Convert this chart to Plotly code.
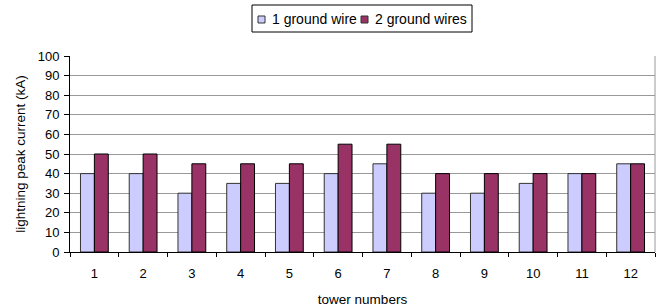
import plotly.graph_objects as go

towers = [str(i) for i in range(1, 13)]
one_wire = [40, 40, 30, 35, 35, 40, 45, 30, 30, 35, 40, 45]
two_wires = [50, 50, 45, 45, 45, 55, 55, 40, 40, 40, 40, 45]
series_names = ["1 ground wire", "2 ground wires"]
series_colors = ["#CCCCFF", "#993366"]

W, H = 659, 307
ML, MR, MT, MB = 70, 4, 56, 55
PW, PH = W - ML - MR, H - MT - MB


def px(x):
    return (x - ML) / PW


def py(y):
    return (H - MB - y) / PH


fig = go.Figure()
fig.add_trace(go.Bar(x=towers, y=one_wire, name=series_names[0], showlegend=False,
                     marker=dict(color=series_colors[0], line=dict(color="#333333", width=1))))
fig.add_trace(go.Bar(x=towers, y=two_wires, name=series_names[1], showlegend=False,
                     marker=dict(color=series_colors[1], line=dict(color="#000000", width=1))))

fig.update_layout(
    width=W, height=H,
    margin=dict(l=ML, r=MR, t=MT, b=MB),
    paper_bgcolor="white", plot_bgcolor="white",
    font=dict(family="Liberation Sans, Arial", size=13, color="black"),
    barmode="group", bargap=0.43, bargroupgap=0,
    showlegend=False,
    xaxis=dict(type="category", tickson="boundaries", ticks="outside", ticklen=4,
               tickcolor="black", showline=True, linecolor="black", linewidth=1,
               showgrid=False, ticklabelstandoff=9, tickfont=dict(size=13),
               title=dict(text="tower numbers", font=dict(size=13.5), standoff=14)),
    yaxis=dict(range=[0, 100], dtick=10, ticks="outside", ticklen=5, tickcolor="black",
               showline=True, linecolor="black", linewidth=1, tickfont=dict(size=13),
               showgrid=True, gridcolor="#999999", gridwidth=1, ticklabelstandoff=2,
               title=dict(text="lightning peak current (kA)", font=dict(size=13.5), standoff=8)),
)
# right border of plot area
fig.add_shape(type="line", xref="paper", yref="paper", x0=1, x1=1, y0=0, y1=1,
              line=dict(color="#999999", width=1))

# legend box drawn manually (compact, like the original)
fig.add_shape(type="rect", xref="paper", yref="paper",
              x0=px(252), x1=px(472), y0=py(32), y1=py(5),
              line=dict(color="black", width=1), fillcolor="white")
sq_x = [258, 361]
tx_x = [270, 373]
for i in range(2):
    fig.add_shape(type="rect", xref="paper", yref="paper",
                  x0=px(sq_x[i]), x1=px(sq_x[i] + 7), y0=py(23), y1=py(16),
                  line=dict(color="#333333", width=1), fillcolor=series_colors[i])
    fig.add_annotation(xref="paper", yref="paper", x=px(tx_x[i]), y=py(18.5),
                       xanchor="left", yanchor="middle", showarrow=False,
                       text=series_names[i], font=dict(size=14, color="black"))

fig.write_html("out.html", config={"displayModeBar": False},
               post_script="document.body.style.margin='0';document.body.style.overflow='hidden';")
